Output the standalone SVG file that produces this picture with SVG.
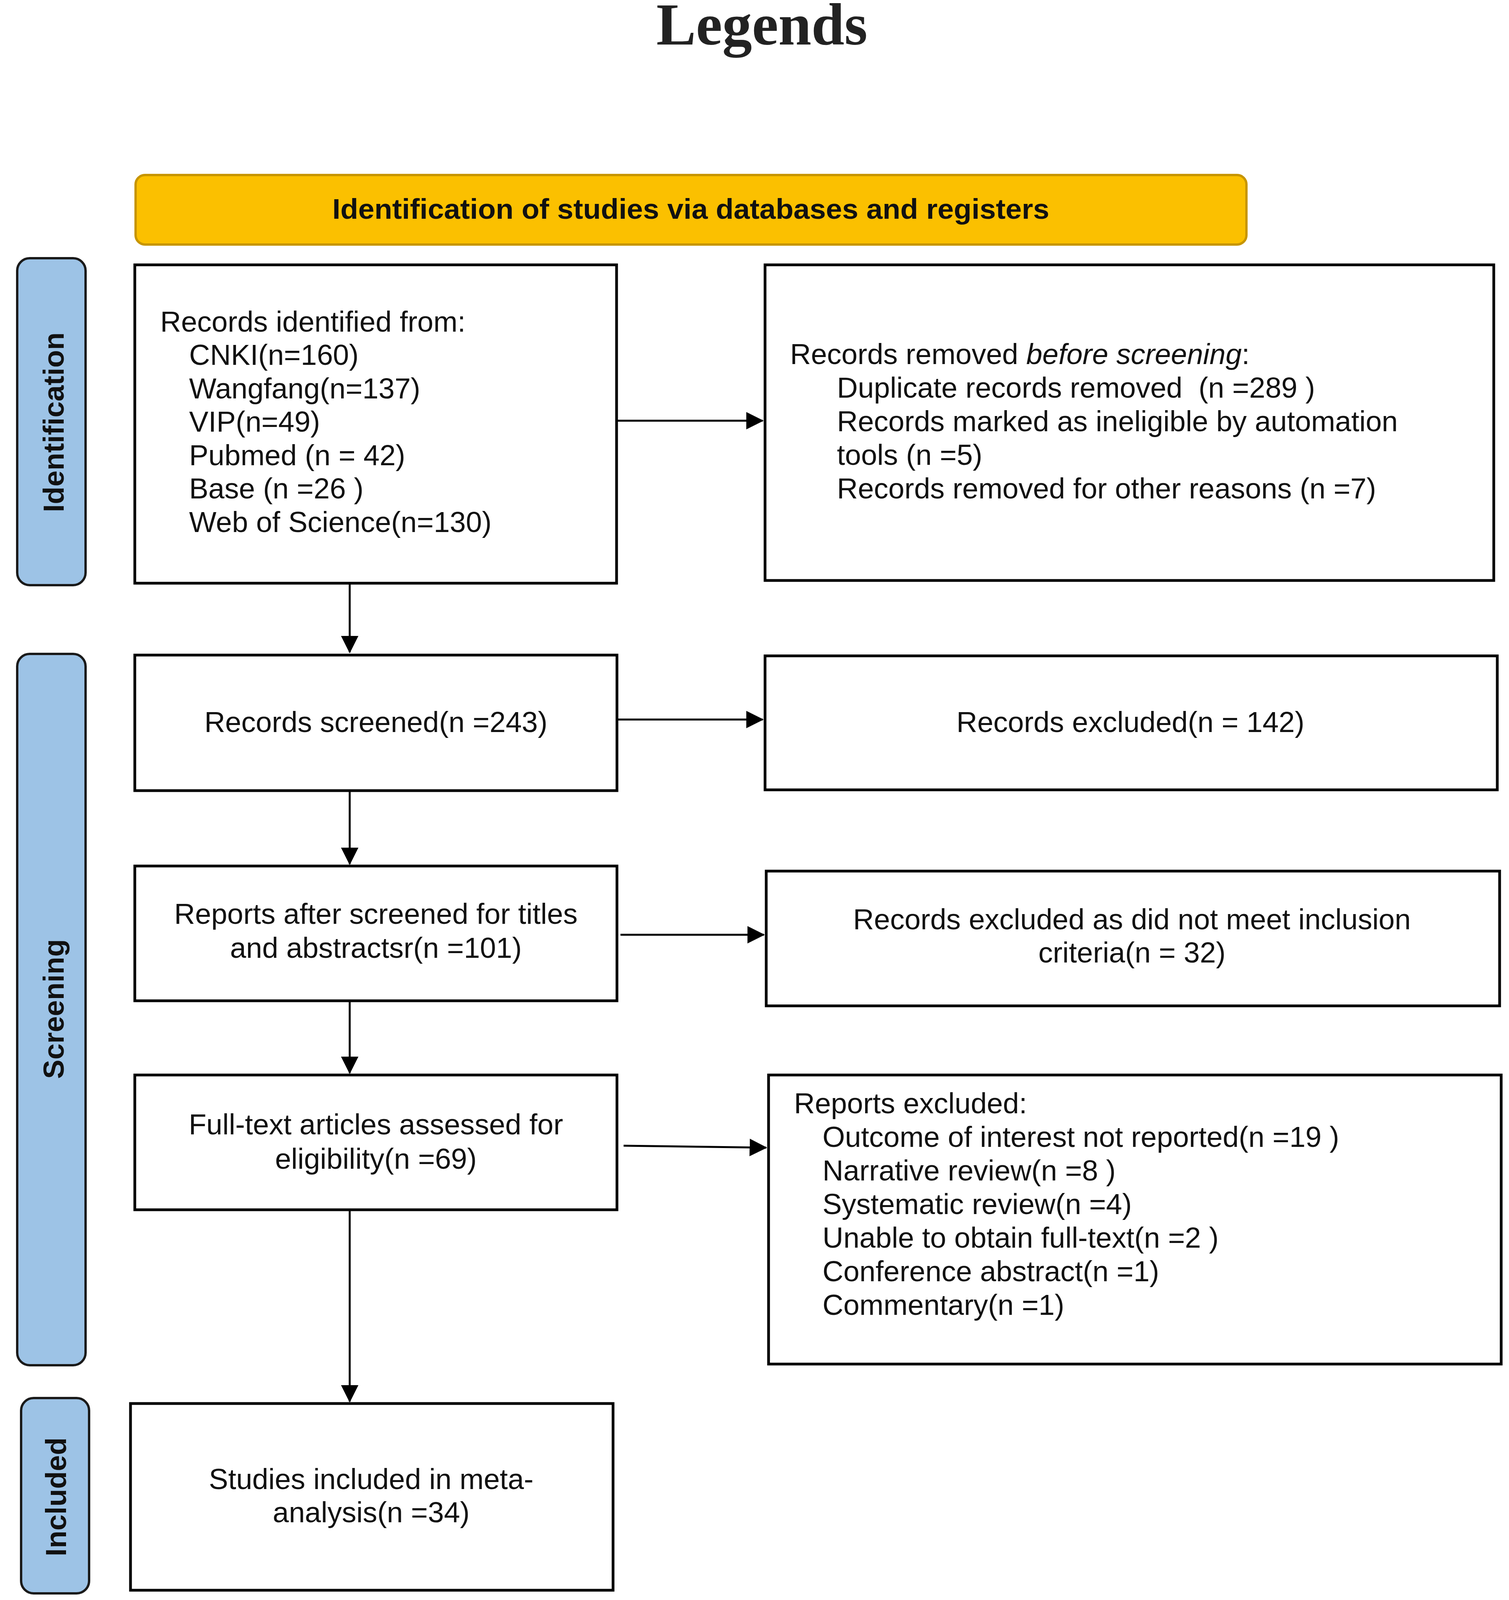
<svg xmlns="http://www.w3.org/2000/svg" width="3862" height="4108" viewBox="0 0 3862 4108">
<style>
.box{fill:#fff;stroke:#000;stroke-width:7}
.side{fill:#9DC3E6;stroke:#1a1a1a;stroke-width:6}
.t{font-family:"Liberation Sans",Arial,sans-serif;font-size:74px;fill:#111;white-space:pre}
.c{text-anchor:middle}
.sl{font-family:"Liberation Sans",Arial,sans-serif;font-size:74px;font-weight:bold;fill:#111;text-anchor:middle}
.ln{stroke:#000;stroke-width:5;fill:none;marker-end:url(#ah)}
</style>
<defs>
<marker id="ah" markerWidth="9" markerHeight="9" refX="8.5" refY="4.5" orient="auto" markerUnits="strokeWidth">
<path d="M0,0 L9,4.5 L0,9 Z" fill="#000"/>
</marker>
</defs>
<rect width="3862" height="4108" fill="#fff"/>
<text x="1950" y="114" font-family="Liberation Serif,'Times New Roman',serif" font-size="152" font-weight="bold" fill="#222" text-anchor="middle">Legends</text>

<g id="banner">
<rect x="347" y="448" width="2843" height="178" rx="24" fill="#FBC000" stroke="#C79500" stroke-width="6"/>
<text x="1768" y="560" font-family="Liberation Sans,Arial,sans-serif" font-size="72" font-weight="bold" fill="#111" text-anchor="middle" textLength="1835" lengthAdjust="spacingAndGlyphs">Identification of studies via databases and registers</text>
</g>

<g id="lbl-identification">
<rect class="side" x="44" y="661" width="175" height="837" rx="32"/>
<text class="sl" transform="translate(163,1081) rotate(-90)">Identification</text>
</g>
<g id="lbl-screening">
<rect class="side" x="44" y="1674" width="175" height="1821" rx="32"/>
<text class="sl" transform="translate(163,2583) rotate(-90)">Screening</text>
</g>
<g id="lbl-included">
<rect class="side" x="54" y="3579" width="174" height="500" rx="32"/>
<text class="sl" transform="translate(169,3832) rotate(-90)">Included</text>
</g>

<g id="n-identified">
<rect class="box" x="345" y="678" width="1233" height="815"/>
<text class="t" x="410" y="849">Records identified from:</text>
<text class="t" x="484" y="934">CNKI(n=160)</text>
<text class="t" x="484" y="1020">Wangfang(n=137)</text>
<text class="t" x="484" y="1105">VIP(n=49)</text>
<text class="t" x="484" y="1191">Pubmed (n = 42)</text>
<text class="t" x="484" y="1276">Base (n =26 )</text>
<text class="t" x="484" y="1362">Web of Science(n=130)</text>
</g>

<g id="n-removed">
<rect class="box" x="1958" y="678" width="1865" height="808"/>
<text class="t" x="2022" y="932">Records removed <tspan font-style="italic">before screening</tspan>:</text>
<text class="t" x="2142" y="1018">Duplicate records removed  (n =289 )</text>
<text class="t" x="2142" y="1104">Records marked as ineligible by automation</text>
<text class="t" x="2142" y="1190">tools (n =5)</text>
<text class="t" x="2142" y="1276">Records removed for other reasons (n =7)</text>
</g>

<g id="n-screened">
<rect class="box" x="345" y="1677" width="1234" height="347"/>
<text class="t c" x="962" y="1874">Records screened(n =243)</text>
</g>

<g id="n-excluded">
<rect class="box" x="1958" y="1679" width="1874" height="343"/>
<text class="t c" x="2893" y="1874">Records excluded(n = 142)</text>
</g>

<g id="n-reports">
<rect class="box" x="345" y="2217" width="1234" height="345"/>
<text class="t c" x="962" y="2365">Reports after screened for titles</text>
<text class="t c" x="962" y="2452">and abstractsr(n =101)</text>
</g>

<g id="n-excluded-criteria">
<rect class="box" x="1961" y="2230" width="1877" height="345"/>
<text class="t c" x="2897" y="2379">Records excluded as did not meet inclusion</text>
<text class="t c" x="2897" y="2464">criteria(n = 32)</text>
</g>

<g id="n-fulltext">
<rect class="box" x="345" y="2752" width="1234" height="345"/>
<text class="t c" x="962" y="2904">Full-text articles assessed for</text>
<text class="t c" x="962" y="2992">eligibility(n =69)</text>
</g>

<g id="n-reports-excluded">
<rect class="box" x="1967" y="2752" width="1875" height="740"/>
<text class="t" x="2032" y="2850">Reports excluded:</text>
<text class="t" x="2105" y="2936">Outcome of interest not reported(n =19 )</text>
<text class="t" x="2105" y="3022">Narrative review(n =8 )</text>
<text class="t" x="2105" y="3108">Systematic review(n =4)</text>
<text class="t" x="2105" y="3194">Unable to obtain full-text(n =2 )</text>
<text class="t" x="2105" y="3280">Conference abstract(n =1)</text>
<text class="t" x="2105" y="3366">Commentary(n =1)</text>
</g>

<g id="n-included">
<rect class="box" x="334" y="3593" width="1235" height="478"/>
<text class="t c" x="950" y="3812">Studies included in meta-</text>
<text class="t c" x="950" y="3897">analysis(n =34)</text>
</g>

<g id="connectors">
<line class="ln" x1="895" y1="1496" x2="895" y2="1670"/>
<line class="ln" x1="895" y1="2027" x2="895" y2="2212"/>
<line class="ln" x1="895" y1="2565" x2="895" y2="2747"/>
<line class="ln" x1="895" y1="3100" x2="895" y2="3588"/>
<line class="ln" x1="1581" y1="1077" x2="1952" y2="1077"/>
<line class="ln" x1="1582" y1="1842" x2="1952" y2="1842"/>
<line class="ln" x1="1588" y1="2393" x2="1955" y2="2393"/>
<line class="ln" x1="1596" y1="2933" x2="1961" y2="2938"/>
</g>
</svg>
